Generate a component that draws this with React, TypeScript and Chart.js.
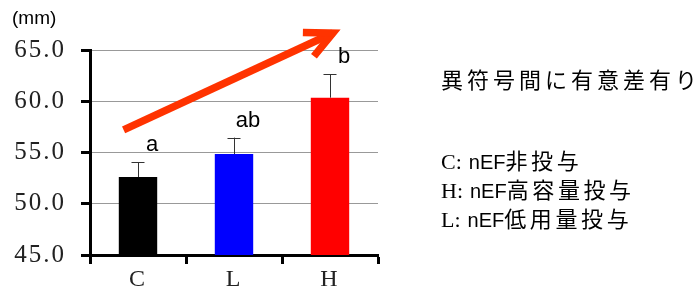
import React, { useEffect, useRef } from "react";
import { Chart, registerables } from "chart.js";

Chart.register(...registerables);

const categories = ["C", "L", "H"];
const means = [52.6, 54.85, 60.35];
const errors = [1.45, 1.6, 2.3];
const sigLetters = ["a", "ab", "b"];
const barColors = ["#000000", "#0000ff", "#ff0000"];
const yMin = 45;
const yMax = 65;
const yStep = 5;
const arrowFrom = { x: -0.15, y: 57.2 };
const arrowTo = { x: 2.03, y: 66.66 };
const unitLabel = "(mm)";
const noteTitle = "異符号間に有意差有り";
const legendLines = [
  { key: "C:", code: "nEF", text: "非投与" },
  { key: "H:", code: "nEF", text: "高容量投与" },
  { key: "L:", code: "nEF", text: "低用量投与" },
];

const serif = "Liberation Serif";

const spacingPlugin = {
  id: "tickSpacing",
  beforeDraw(chart: any) {
    chart.ctx.letterSpacing = "2px";
  },
  beforeDatasetsDraw(chart: any) {
    chart.ctx.letterSpacing = "0px";
  },
};

const overlayPlugin = {
  id: "overlay",
  afterDatasetsDraw(chart: any) {
    const ctx = chart.ctx;
    const xs = chart.scales.x;
    const ys = chart.scales.y;
    const meta = chart.getDatasetMeta(0);
    ctx.save();
    ctx.letterSpacing = "0px";
    meta.data.forEach((bar: any, i: number) => {
      const cx = bar.x;
      const top = ys.getPixelForValue(means[i]);
      const errTop = ys.getPixelForValue(means[i] + errors[i]);
      ctx.strokeStyle = "#333";
      ctx.lineWidth = 1;
      ctx.beginPath();
      ctx.moveTo(Math.round(cx) + 0.5, top);
      ctx.lineTo(Math.round(cx) + 0.5, errTop);
      ctx.moveTo(cx - 6.5, Math.round(errTop) + 0.5);
      ctx.lineTo(cx + 6.5, Math.round(errTop) + 0.5);
      ctx.stroke();
      ctx.fillStyle = "#000";
      ctx.font = '22px "Liberation Sans", Arial, sans-serif';
      ctx.textAlign = "center";
      ctx.textBaseline = "alphabetic";
      ctx.fillText(sigLetters[i], cx + 14, errTop - 11);
    });
    const x0 = xs.getPixelForValue(arrowFrom.x);
    const y0 = ys.getPixelForValue(arrowFrom.y);
    const x1 = xs.getPixelForValue(arrowTo.x);
    const y1 = ys.getPixelForValue(arrowTo.y);
    const ang = Math.atan2(y0 - y1, x0 - x1);
    const head = 30;
    const spread = (26 * Math.PI) / 180;
    ctx.strokeStyle = "#ff3300";
    ctx.lineWidth = 7.5;
    ctx.lineCap = "butt";
    ctx.lineJoin = "miter";
    ctx.beginPath();
    ctx.moveTo(x0, y0);
    ctx.lineTo(x1, y1);
    ctx.stroke();
    ctx.beginPath();
    ctx.moveTo(x1 + head * Math.cos(ang - spread), y1 + head * Math.sin(ang - spread));
    ctx.lineTo(x1, y1);
    ctx.lineTo(x1 + head * Math.cos(ang + spread), y1 + head * Math.sin(ang + spread));
    ctx.stroke();
    ctx.restore();
  },
};

export default function App() {
  const ref = useRef<HTMLCanvasElement>(null);
  useEffect(() => {
    if (!ref.current) return;
    const chart = new Chart(ref.current, {
      type: "bar",
      data: {
        labels: categories,
        datasets: [
          {
            data: means,
            backgroundColor: barColors,
            borderWidth: 0,
            categoryPercentage: 1,
            barPercentage: 0.4,
          },
        ],
      },
      options: {
        animation: false,
        responsive: true,
        maintainAspectRatio: false,
        layout: { padding: { top: 50, right: 318, left: 0, bottom: 0 } },
        plugins: { legend: { display: false }, tooltip: { enabled: false } },
        scales: {
          x: {
            grid: {
              offset: true,
              drawOnChartArea: false,
              tickColor: "#000",
              tickWidth: 3,
              tickLength: 9,
            },
            border: { color: "#000", width: 3 },
            ticks: {
              color: "#222",
              padding: 1,
              font: { family: serif, size: 24 },
            },
            afterFit: (s: any) => {
              s.height = 47;
            },
          },
          y: {
            min: yMin,
            max: yMax,
            ticks: {
              stepSize: yStep,
              color: "#222",
              padding: 15,
              font: { family: serif, size: 25 },
              callback: (v: any) => Number(v).toFixed(1),
            },
            grid: {
              color: "#999",
              lineWidth: 1,
              tickColor: "#000",
              tickWidth: 3,
              tickLength: 9,
            },
            border: { color: "#000", width: 3 },
            afterFit: (s: any) => {
              s.width = 90;
            },
          },
        },
      },
      plugins: [spacingPlugin, overlayPlugin],
    });
    return () => chart.destroy();
  }, []);

  const cjk = '"Noto Sans CJK JP", "Noto Sans", sans-serif';
  return (
    <div style={{ position: "fixed", left: 0, top: 0, width: 696, height: 302, background: "#fff" }}>
      <canvas ref={ref} />
      <div
        style={{
          position: "absolute",
          left: 12,
          top: 7,
          fontFamily: '"Liberation Sans", Arial, sans-serif',
          fontSize: 19,
          color: "#000",
        }}
      >
        {unitLabel}
      </div>
      <div
        style={{
          position: "absolute",
          left: 441,
          top: 64,
          fontFamily: cjk,
          fontSize: 22,
          letterSpacing: 4,
          lineHeight: "28px",
          whiteSpace: "nowrap",
          color: "#000",
        }}
      >
        {noteTitle}
      </div>
      {legendLines.map((l, i) => (
        <div
          key={l.key}
          style={{
            position: "absolute",
            left: 441,
            top: 145 + i * 29,
            whiteSpace: "nowrap",
            lineHeight: "28px",
            color: "#000",
          }}
        >
          <span style={{ fontFamily: '"Liberation Serif", serif', fontSize: 22 }}>{l.key}</span>
          <span style={{ fontFamily: '"Liberation Sans", Arial, sans-serif', fontSize: 20, marginLeft: 7 }}>
            {l.code}
          </span>
          <span style={{ fontFamily: cjk, fontSize: 22, letterSpacing: 3.6 }}>{l.text}</span>
        </div>
      ))}
    </div>
  );
}
